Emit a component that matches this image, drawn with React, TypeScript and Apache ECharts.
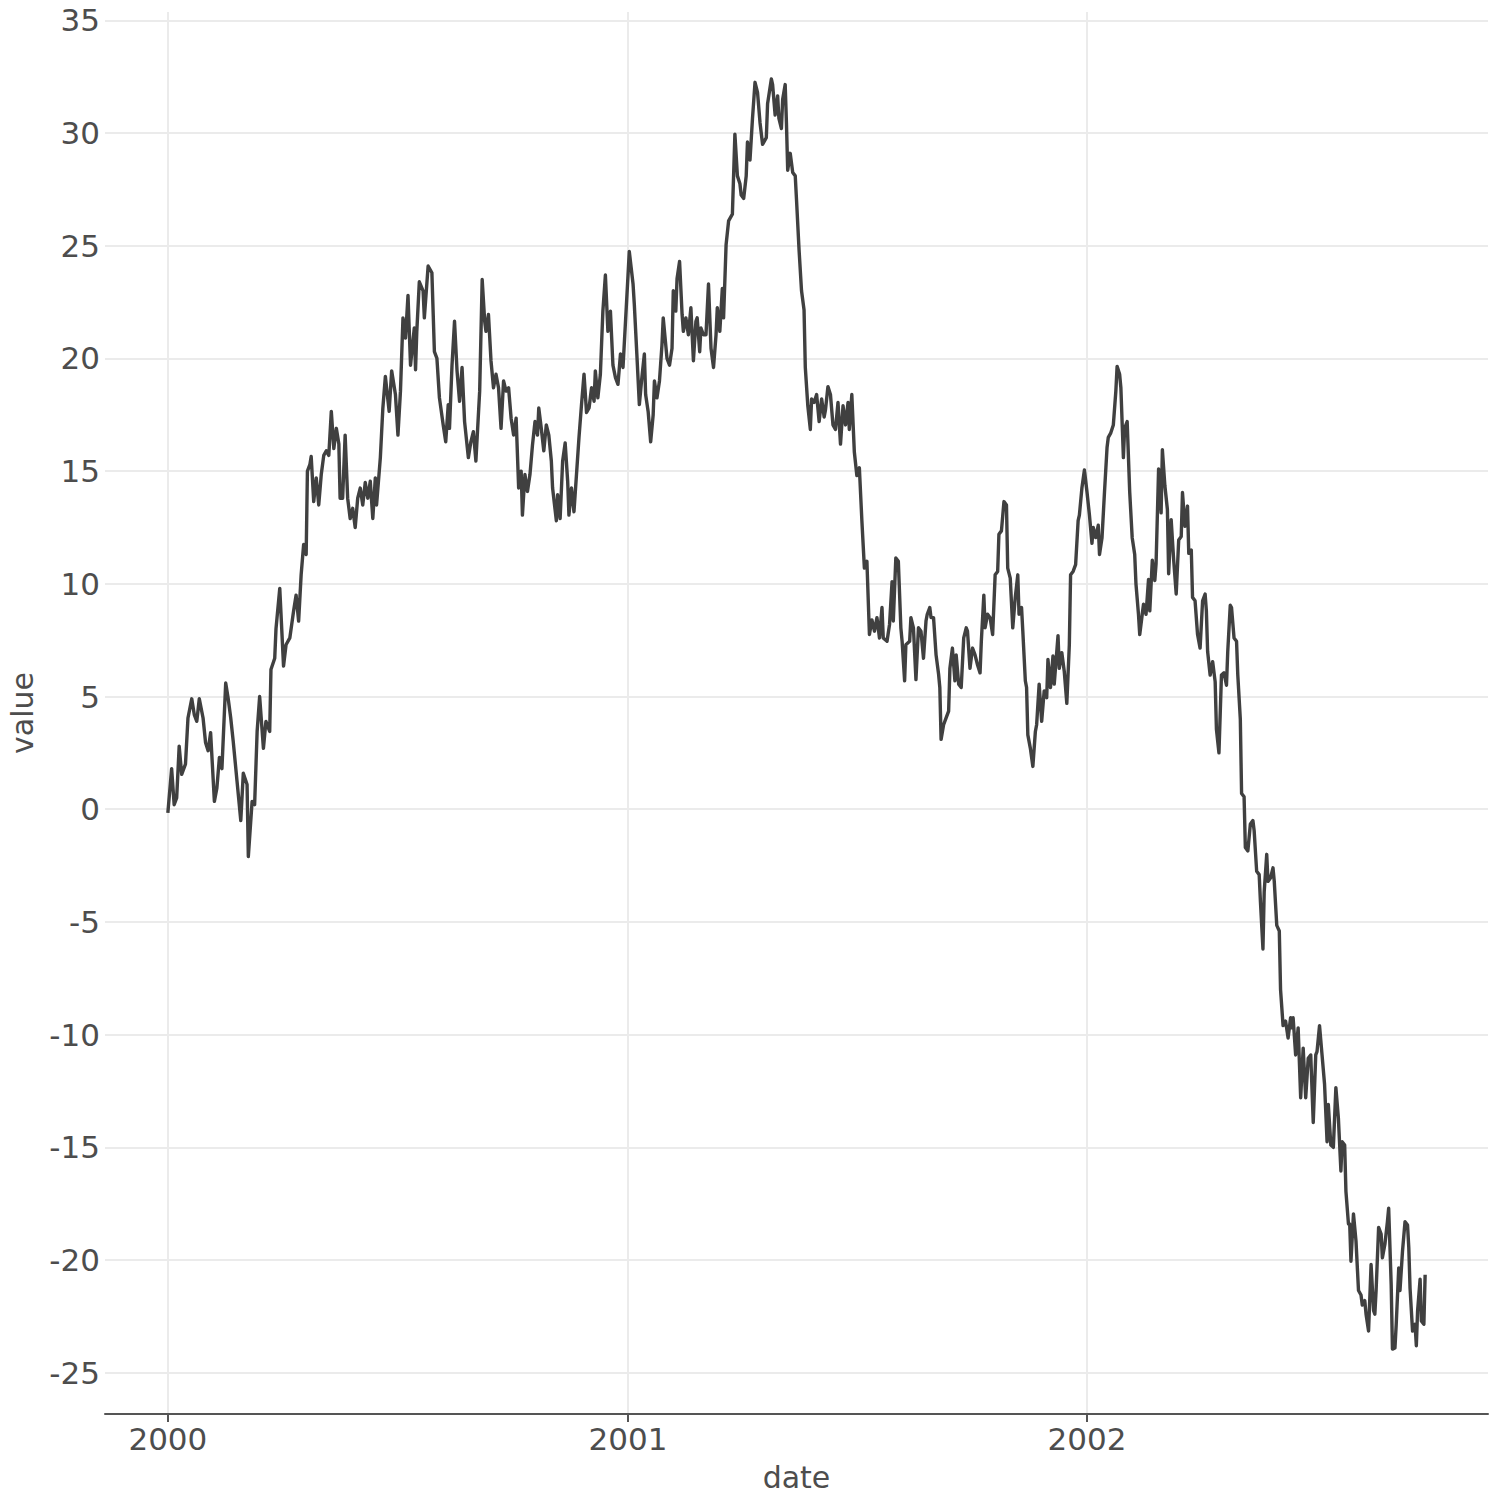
import React, { useEffect, useRef } from "react";
import * as echarts from "echarts";

// days since 2000-01-01
const dayOffsets = [
  0, 3, 5, 7, 9, 11, 14, 16, 19, 21, 23, 25, 28, 30, 32, 34, 37, 39, 41, 43,
  46, 48, 50, 52, 55, 58, 60, 63, 64, 67, 69, 71, 73, 76, 78, 81, 82, 85, 86, 89,
  92, 94, 97, 100, 102, 104, 106, 108, 110, 111, 113, 114, 116, 118, 120, 122, 124, 126, 128, 130,
  132, 134, 136, 137, 139, 141, 143, 145, 147, 149, 151, 153, 155, 157, 159, 161, 163, 165, 166, 169,
  171, 173, 176, 178, 181, 183, 185, 187, 189, 191, 193, 196, 197, 198, 200, 203, 204, 207, 210, 212,
  214, 216, 219, 221, 223, 224, 226, 228, 230, 232, 234, 236, 239, 241, 243, 245, 248, 250, 252, 253,
  255, 257, 259, 261, 263, 265, 267, 269, 271, 273, 275, 277, 279, 281, 282, 284, 286, 288, 290, 292,
  294, 295, 297, 299, 301, 303, 305, 306, 309, 310, 312, 314, 316, 318, 319, 321, 323, 325, 327, 329,
  331, 333, 335, 337, 339, 340, 342, 344, 346, 348, 350, 352, 354, 356, 358, 360, 362, 364, 366, 367,
  370, 371, 373, 375, 377, 379, 380, 382, 384, 386, 387, 389, 391, 393, 394, 397, 399, 401, 402, 404,
  405, 407, 409, 410, 412, 414, 416, 418, 420, 421, 423, 424, 426, 428, 430, 432, 434, 436, 437, 439,
  441, 442, 444, 446, 449, 451, 453, 455, 456, 458, 460, 461, 463, 465, 467, 469, 471, 473, 476, 477,
  480, 481, 483, 485, 486, 488, 489, 491, 492, 493, 495, 497, 499, 500, 502, 504, 506, 507, 509, 511,
  512, 514, 516, 518, 520, 522, 523, 525, 527, 529, 531, 533, 535, 537, 539, 541, 542, 544, 546, 548,
  550, 552, 554, 556, 558, 560, 562, 564, 566, 568, 569, 572, 574, 576, 577, 579, 581, 583, 584, 586,
  587, 590, 591, 593, 595, 597, 599, 601, 603, 604, 606, 607, 609, 611, 613, 614, 615, 617, 619, 621,
  622, 624, 626, 627, 629, 631, 633, 635, 636, 638, 640, 642, 644, 646, 647, 649, 650, 652, 654, 656,
  658, 660, 661, 663, 665, 667, 668, 670, 672, 674, 676, 677, 679, 680, 682, 683, 684, 686, 688, 690,
  691, 693, 695, 697, 699, 700, 702, 704, 705, 708, 709, 711, 713, 715, 717, 718, 720, 722, 724, 725,
  727, 729, 731, 733, 735, 736, 738, 740, 741, 743, 745, 747, 748, 750, 752, 754, 755, 757, 758, 760,
  761, 763, 765, 767, 769, 770, 772, 773, 775, 776, 778, 780, 781, 783, 785, 786, 788, 790, 791, 793,
  795, 796, 798, 800, 802, 804, 806, 807, 809, 811, 812, 814, 815, 817, 819, 821, 823, 825, 826, 827,
  829, 831, 833, 834, 836, 838, 840, 842, 843, 845, 846, 848, 850, 851, 853, 854, 856, 857, 859, 861,
  863, 864, 866, 868, 869, 871, 872, 874, 875, 877, 879, 880, 882, 884, 885, 887, 889, 891, 893, 894,
  895, 897, 899, 901, 903, 905, 907, 909, 911, 913, 914, 916, 918, 920, 922, 923, 925, 927, 929, 931,
  933, 934, 936, 937, 939, 940, 941, 943, 945, 947, 949, 950, 952, 953, 955, 957, 959, 960, 961, 963,
  965, 966, 968, 970, 971, 973, 974, 976, 977, 979, 980, 982, 984, 986, 987, 988, 990, 992, 993, 994,
  996, 997, 999, 1000,
];

const values = [
  -0.16, 1.8, 0.2, 0.5, 2.8, 1.55, 2.0, 4.05, 4.9, 4.2, 3.9, 4.9, 4.05, 2.95, 2.6, 3.4, 0.35, 0.95, 2.3, 1.8,
  5.6, 4.9, 4.05, 3.0, 1.25, -0.5, 1.6, 1.1, -2.1, 0.35, 0.2, 3.45, 5.0, 2.7, 3.9, 3.45, 6.2, 6.7, 8.0, 9.8,
  6.35, 7.3, 7.6, 8.8, 9.5, 8.35, 10.4, 11.75, 11.3, 15.0, 15.3, 15.65, 13.65, 14.7, 13.5, 14.85, 15.7, 15.9, 15.7, 17.65,
  16.0, 16.9, 16.2, 13.8, 13.8, 16.6, 13.8, 12.9, 13.35, 12.5, 13.8, 14.25, 13.5, 14.5, 13.8, 14.55, 12.9, 14.7, 13.5, 15.6,
  17.8, 19.2, 17.65, 19.45, 18.4, 16.6, 18.55, 21.8, 20.9, 22.8, 19.7, 21.35, 19.5, 21.2, 23.4, 23.0, 21.8, 24.1, 23.8, 20.3,
  20.0, 18.25, 17.05, 16.3, 17.95, 16.9, 19.7, 21.65, 19.45, 18.1, 19.6, 17.2, 15.6, 16.3, 16.75, 15.45, 18.55, 23.5, 21.65, 21.2,
  21.95, 19.9, 18.7, 19.3, 18.7, 16.9, 19.0, 18.55, 18.7, 17.35, 16.6, 17.35, 14.25, 15.0, 13.05, 14.85, 14.1, 14.85, 16.15, 17.2,
  16.6, 17.8, 16.9, 15.9, 17.05, 16.6, 15.45, 14.25, 12.8, 13.95, 12.9, 15.45, 16.25, 14.55, 13.05, 14.25, 13.2, 14.85, 16.5, 17.95,
  19.3, 17.6, 17.8, 18.7, 18.1, 19.45, 18.25, 19.3, 22.1, 23.7, 21.2, 22.1, 19.7, 19.15, 18.85, 20.2, 19.6, 21.65, 23.7, 24.75,
  23.3, 22.4, 20.2, 17.95, 19.15, 20.2, 18.4, 17.65, 16.3, 17.5, 19.0, 18.25, 19.0, 20.6, 21.8, 20.0, 19.7, 20.45, 23.0, 22.1,
  23.55, 24.3, 21.95, 21.2, 21.8, 21.05, 22.25, 19.9, 21.65, 21.8, 20.3, 21.35, 21.05, 21.05, 23.3, 20.45, 19.6, 21.05, 22.25, 21.2,
  23.1, 21.8, 25.05, 26.1, 26.4, 29.95, 28.1, 27.75, 27.25, 27.1, 28.1, 29.6, 28.8, 30.65, 32.25, 31.8, 30.45, 29.5, 29.8, 31.3,
  32.4, 32.15, 30.8, 31.65, 30.65, 30.2, 31.5, 32.15, 30.45, 28.35, 29.1, 28.25, 28.1, 27.05, 24.85, 23.0, 22.15, 19.6, 17.9, 16.85,
  18.2, 18.05, 18.4, 17.2, 18.2, 17.4, 17.7, 18.75, 18.4, 17.05, 16.85, 18.05, 16.2, 17.9, 17.05, 18.05, 16.85, 18.4, 15.85, 14.8,
  15.15, 12.8, 10.7, 11.0, 7.75, 8.4, 7.9, 8.5, 7.6, 8.95, 7.6, 7.45, 8.2, 10.1, 8.35, 11.15, 11.0, 8.05, 7.45, 5.7,
  7.3, 7.45, 8.5, 8.05, 5.75, 8.05, 7.9, 6.7, 8.35, 8.65, 8.95, 8.5, 8.5, 6.85, 6.0, 5.4, 3.1, 3.75, 4.05, 4.35,
  6.25, 7.15, 5.7, 6.85, 5.55, 5.4, 7.6, 8.05, 7.9, 6.25, 7.15, 6.85, 6.4, 6.05, 7.45, 9.5, 8.05, 8.65, 8.5, 7.75,
  10.4, 10.55, 12.2, 12.35, 13.65, 13.5, 10.7, 10.25, 8.05, 9.4, 10.4, 8.65, 8.95, 7.9, 5.7, 5.4, 3.3, 2.7, 1.9, 3.45,
  3.75, 5.55, 3.9, 5.25, 4.95, 6.65, 5.4, 6.8, 5.55, 7.7, 6.25, 6.95, 6.1, 4.7, 7.3, 10.4, 10.55, 10.85, 12.8, 13.05,
  14.25, 15.05, 14.1, 13.05, 11.8, 12.5, 12.05, 12.6, 11.3, 12.05, 14.1, 16.05, 16.5, 16.7, 17.05, 18.55, 19.65, 19.3, 18.7, 15.6,
  16.9, 17.2, 14.1, 12.05, 11.3, 10.0, 8.65, 7.75, 8.65, 9.1, 8.65, 10.2, 8.8, 11.05, 10.15, 10.9, 15.1, 13.15, 15.95, 14.35,
  13.3, 10.45, 12.85, 11.05, 9.55, 11.95, 12.1, 14.05, 12.55, 13.45, 11.35, 11.5, 9.4, 9.25, 7.75, 7.15, 9.25, 9.55, 8.8, 7.0,
  5.95, 6.55, 5.65, 3.55, 2.5, 5.95, 6.05, 5.5, 7.0, 9.05, 8.95, 7.6, 7.45, 5.95, 4.0, 0.7, 0.55, -1.7, -1.85, -0.65,
  -0.5, -0.95, -2.75, -2.9, -4.1, -6.2, -3.65, -2.0, -3.2, -3.05, -2.6, -3.2, -5.15, -5.4, -8.0, -9.6, -9.4, -10.15, -9.25, -9.7,
  -9.25, -10.9, -9.7, -12.8, -10.6, -12.8, -11.05, -10.9, -13.9, -10.9, -10.75, -9.6, -10.9, -12.2, -14.75, -13.1, -14.9, -15.0, -12.35, -13.7,
  -16.05, -14.75, -14.9, -16.95, -18.4, -18.4, -20.05, -17.95, -19.15, -21.35, -21.55, -22.0, -21.8, -22.4, -23.15, -20.2, -22.25, -22.4, -21.35, -18.55,
  -18.85, -19.9, -19.3, -18.3, -17.7, -21.1, -23.95, -23.9, -22.85, -20.35, -21.35, -19.6, -18.3, -18.45, -19.45, -21.25, -23.15, -22.85, -23.8, -22.25,
  -20.85, -22.7, -22.85, -20.65,
];

const yearTickDays = [0, 366, 731];
const yearLabels = ["2000", "2001", "2002"];
const yTickValues = [-25, -20, -15, -10, -5, 0, 5, 10, 15, 20, 25, 30, 35];

const xTitle = "date";
const yTitle = "value";

const TEXT_COLOR = "#4D4D4D";
const FONT = "DejaVu Sans";

export default function App() {
  const ref = useRef<HTMLDivElement>(null);

  useEffect(() => {
    if (!ref.current) return;
    const chart = echarts.init(ref.current, null, { renderer: "svg" });
    const data = dayOffsets.map((d, i) => [d, values[i]]);

    chart.setOption({
      animation: false,
      backgroundColor: "#ffffff",
      grid: {
        left: 105,
        right: 12,
        top: 12,
        bottom: 86,
        containLabel: false,
        outerBoundsMode: "none",
      },
      xAxis: {
        type: "value",
        min: -50,
        max: 1050,
        axisLine: {
          show: true,
          onZero: false,
          lineStyle: { color: "#555555", width: 2 },
        },
        axisTick: {
          show: true,
          customValues: yearTickDays,
          length: 8,
          lineStyle: { color: "#555555", width: 2 },
        },
        axisLabel: {
          customValues: yearTickDays,
          formatter: (v: number) => {
            const idx = yearTickDays.indexOf(v);
            return idx >= 0 ? yearLabels[idx] : "";
          },
          color: TEXT_COLOR,
          fontSize: 31,
          fontFamily: FONT,
          margin: 9,
        },
        splitLine: { show: true, lineStyle: { color: "#EBEBEB", width: 2 } },
      },
      yAxis: {
        type: "value",
        min: -26.83,
        max: 35.37,
        axisLine: { show: false },
        axisTick: { show: false, customValues: yTickValues },
        axisLabel: {
          customValues: yTickValues,
          color: TEXT_COLOR,
          fontSize: 31,
          fontFamily: FONT,
          margin: 5,
        },
        splitLine: { show: true, lineStyle: { color: "#EBEBEB", width: 2 } },
      },
      series: [
        {
          type: "line",
          data,
          symbol: "none",
          showSymbol: false,
          lineStyle: { color: "#404040", width: 3.4, join: "round" },
          clip: false,
        },
      ],
      graphic: [
        {
          type: "text",
          x: 22,
          y: 713,
          rotation: Math.PI / 2,
          style: {
            text: yTitle,
            fontSize: 30,
            fontFamily: FONT,
            fill: TEXT_COLOR,
            align: "center",
            verticalAlign: "middle",
          },
        },
        {
          type: "text",
          x: 796.5,
          y: 1477,
          style: {
            text: xTitle,
            fontSize: 30,
            fontFamily: FONT,
            fill: TEXT_COLOR,
            align: "center",
            verticalAlign: "middle",
          },
        },
      ],
    });

    return () => chart.dispose();
  }, []);

  return (
    <div
      ref={ref}
      style={{ position: "fixed", left: 0, top: 0, width: 1500, height: 1500 }}
    />
  );
}
